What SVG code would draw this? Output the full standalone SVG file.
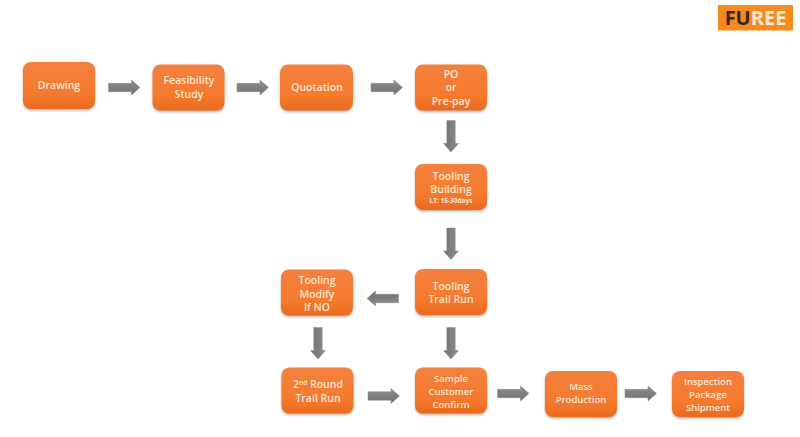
<svg xmlns="http://www.w3.org/2000/svg" width="800" height="437" viewBox="0 0 800 437">
<style>
.n{fill:url(#g);filter:url(#s)}
text{font-family:"Open Sans","Liberation Sans",sans-serif;font-weight:600;fill:#fbe6d6;text-anchor:middle;font-size:10.5px}
.sm{font-size:9.500px}
.a{fill:url(#ag);stroke:#8a8a8a;stroke-width:.5}
</style>
<defs>
<linearGradient id="g" x1="0" y1="0" x2="0" y2="1"><stop offset="0" stop-color="#f4813f"/><stop offset=".7" stop-color="#f5792c"/><stop offset="1" stop-color="#e96a1e"/></linearGradient>
<linearGradient id="ag" x1="0" y1="0" x2="0" y2="1"><stop offset="0" stop-color="#8f8f8f"/><stop offset="1" stop-color="#6f6f6f"/></linearGradient>
<filter id="s" x="-10%" y="-10%" width="120%" height="125%"><feDropShadow dx="0" dy="1.5" stdDeviation="1.2" flood-color="#8a6a55" flood-opacity=".55"/></filter>
<path id="ar" d="M0-4.2H23V-7.500L31.500 0 23 7.500V4.200H0Z"/>
</defs>
<rect width="800" height="437" fill="#fff"/>
<g id="connectors">
<use href="#ar" class="a" transform="translate(108.500 87.500)"/>
<use href="#ar" class="a" transform="translate(237 87.500)"/>
<use href="#ar" class="a" transform="translate(371 87.500)"/>
<use href="#ar" class="a" transform="translate(451 120.500) rotate(90)"/>
<use href="#ar" class="a" transform="translate(451 228) rotate(90)"/>
<use href="#ar" class="a" transform="translate(398.500 298.500) rotate(180)"/>
<use href="#ar" class="a" transform="translate(451 327.500) rotate(90)"/>
<use href="#ar" class="a" transform="translate(318 327.500) rotate(90)"/>
<use href="#ar" class="a" transform="translate(368 396)"/>
<use href="#ar" class="a" transform="translate(497.500 393.500)"/>
<use href="#ar" class="a" transform="translate(625 393.500)"/>
</g>
<g id="logo-furee">
<rect x="718" y="5" width="75" height="25.500" fill="#f58a1f"/>
<text x="755.500" y="25" style="font-size:20px;font-weight:700"><tspan fill="#33261a">FU</tspan><tspan fill="#fbe9d6">REE</tspan></text>
</g>
<g id="drawing"><rect class="n" x="23" y="62" width="72" height="47" rx="8"/><text x="59" y="89">Drawing</text></g>
<g id="feasibility"><rect class="n" x="152.500" y="64.500" width="72" height="46" rx="8"/><text x="189" y="84">Feasibility</text><text x="189" y="98">Study</text></g>
<g id="quotation"><rect class="n" x="280" y="64.500" width="73" height="46" rx="8"/><text x="317" y="91">Quotation</text></g>
<g id="po"><rect class="n" x="415" y="64.500" width="72" height="46" rx="8"/><text x="451" y="78">PO</text><text x="451" y="91">or</text><text x="451" y="105">Pre-pay</text></g>
<g id="tooling-building"><rect class="n" x="415" y="164" width="72" height="46" rx="8"/><text x="451" y="180">Tooling</text><text x="451" y="193">Building</text><text x="451" y="203" style="font-size:6.500px;font-weight:700">LT: 15-30days</text></g>
<g id="tooling-trail"><rect class="n" x="415" y="269" width="72" height="46" rx="8"/><text x="451" y="290">Tooling</text><text x="451" y="303">Trail Run</text></g>
<g id="tooling-modify"><rect class="n" x="281" y="269.500" width="72" height="46" rx="8"/><text x="317" y="284">Tooling</text><text x="317" y="298">Modify</text><text x="317" y="311">If NO</text></g>
<g id="second-round"><rect class="n" x="281.500" y="367.500" width="72" height="46" rx="8"/><text x="318" y="388">2<tspan dy="-3" style="font-size:6.500px">nd</tspan><tspan dy="3"> Round</tspan></text><text x="318" y="402">Trail Run</text></g>
<g id="sample"><rect class="n" x="415" y="367.500" width="72" height="46" rx="8"/><text class="sm" x="451" y="381.500">Sample</text><text class="sm" x="451" y="394.500">Customer</text><text class="sm" x="451" y="407.500">Confirm</text></g>
<g id="mass"><rect class="n" x="545" y="371" width="72" height="46" rx="8"/><text class="sm" x="581" y="390">Mass</text><text class="sm" x="581" y="403">Production</text></g>
<g id="inspection"><rect class="n" x="672" y="371" width="72" height="46" rx="8"/><text class="sm" x="708" y="385">Inspection</text><text class="sm" x="708" y="398">Package</text><text class="sm" x="708" y="411">Shipment</text></g>
</svg>
